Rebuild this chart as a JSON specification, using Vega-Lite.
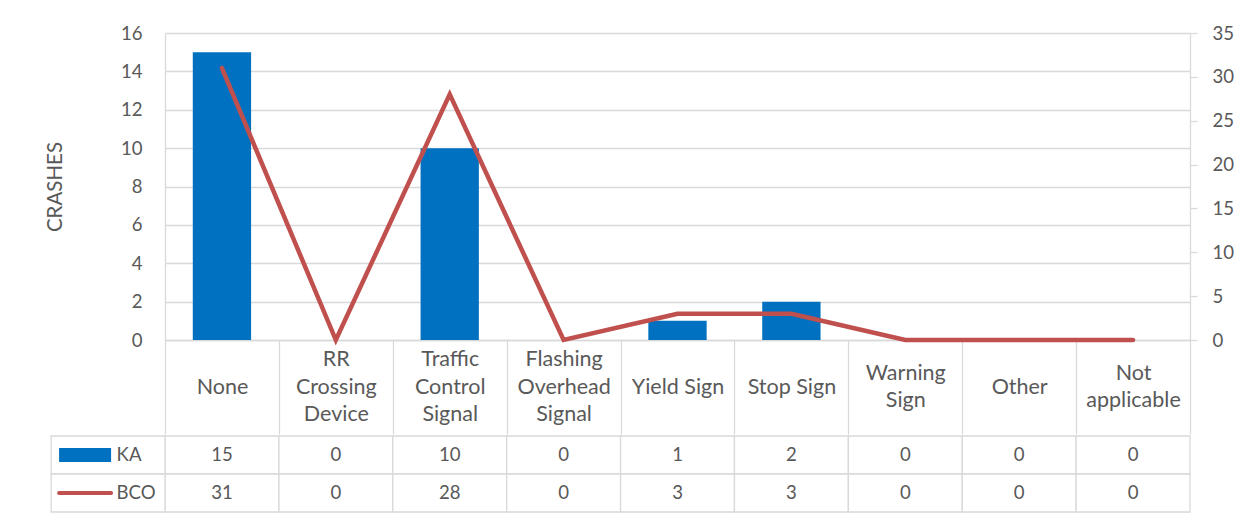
{
  "$schema": "https://vega.github.io/schema/vega-lite/v6.json",
  "padding": {"left": 45, "top": 24, "right": 5, "bottom": 5},
  "background": "white",
  "spacing": 0,
  "config": {
    "font": "Lato",
    "view": {"stroke": null},
    "text": {"font": "Lato"}
  },
  "datasets": {
    "crashes": [
      {"category": "None", "KA": 15, "BCO": 31},
      {"category": "RR Crossing Device", "KA": 0, "BCO": 0},
      {"category": "Traffic Control Signal", "KA": 10, "BCO": 28},
      {"category": "Flashing Overhead Signal", "KA": 0, "BCO": 0},
      {"category": "Yield Sign", "KA": 1, "BCO": 3},
      {"category": "Stop Sign", "KA": 2, "BCO": 3},
      {"category": "Warning Sign", "KA": 0, "BCO": 0},
      {"category": "Other", "KA": 0, "BCO": 0},
      {"category": "Not applicable", "KA": 0, "BCO": 0}
    ],
    "key": [{"series": "KA"}, {"series": "BCO"}]
  },
  "vconcat": [
    {
      "width": 1025,
      "height": 307,
      "data": {"name": "crashes"},
      "encoding": {
        "x": {
          "field": "category",
          "type": "nominal",
          "sort": null,
          "scale": {
            "type": "band",
            "paddingInner": 0,
            "paddingOuter": 0,
            "domain": ["None", "RR Crossing Device", "Traffic Control Signal", "Flashing Overhead Signal", "Yield Sign", "Stop Sign", "Warning Sign", "Other", "Not applicable"]
          },
          "axis": {
            "title": null,
            "orient": "bottom",
            "tickBand": "extent",
            "ticks": true,
            "tickSize": 94,
            "tickColor": "#d9d9d9",
            "tickWidth": 1.3,
            "domain": true,
            "domainColor": "#d9d9d9",
            "domainWidth": 1.3,
            "labelAngle": 0,
            "labelAlign": "center",
            "labelBaseline": "middle",
            "labelPadding": {
              "condition": [
                {"test": "indexof(['RR Crossing Device', 'Traffic Control Signal', 'Flashing Overhead Signal'], datum.value) >= 0", "value": -74.5},
                {"test": "datum.value == 'Warning Sign' || datum.value == 'Not applicable'", "value": -60.75}
              ],
              "value": -47
            },
            "labelFontSize": 21.5,
            "labelColor": "#595959",
            "labelLineHeight": 27.5,
            "labelLimit": 0,
            "labelOverlap": false,
            "labelExpr": "indexof(['Yield Sign', 'Stop Sign'], datum.label) >= 0 ? datum.label : split(datum.label, ' ')"
          }
        }
      },
      "layer": [
        {
          "mark": {"type": "bar", "color": "#0070C0", "width": {"band": 0.512}},
          "encoding": {
            "y": {
              "field": "KA",
              "type": "quantitative",
              "scale": {"domain": [0, 16], "nice": false},
              "axis": {
                "title": "CRASHES",
                "titleFontSize": 20.5,
                "titleFontWeight": "normal",
                "titleColor": "#595959",
                "titlePadding": 56,
                "labelFontSize": 18.6,
                "labelColor": "#595959",
                "labelPadding": 23,
                "ticks": false,
                "domain": true,
                "domainColor": "#d9d9d9",
                "domainWidth": 1.3,
                "grid": true,
                "gridColor": "#d9d9d9",
                "gridWidth": 1.3,
                "values": [0, 2, 4, 6, 8, 10, 12, 14, 16],
                "minExtent": 44,
                "maxExtent": 44
              }
            }
          }
        },
        {
          "mark": {"type": "line", "color": "#C0504D", "strokeWidth": 4.5, "strokeCap": "round"},
          "encoding": {
            "y": {
              "field": "BCO",
              "type": "quantitative",
              "scale": {"domain": [0, 35], "nice": false},
              "axis": {
                "orient": "right",
                "title": null,
                "labelFontSize": 18.6,
                "labelColor": "#595959",
                "labelPadding": 15,
                "ticks": true,
                "tickSize": 7,
                "tickColor": "#d9d9d9",
                "tickWidth": 1.3,
                "domain": true,
                "domainColor": "#d9d9d9",
                "domainWidth": 1.3,
                "grid": false,
                "values": [0, 5, 10, 15, 20, 25, 30, 35]
              }
            }
          }
        }
      ],
      "resolve": {"scale": {"y": "independent"}}
    },
    {
      "width": 1025,
      "height": 76,
      "encoding": {
        "x": {
          "field": "category",
          "type": "nominal",
          "sort": null,
          "scale": {
            "type": "band",
            "paddingInner": 0,
            "paddingOuter": 0,
            "range": [-113.85, 1025],
            "domain": ["Series", "None", "RR Crossing Device", "Traffic Control Signal", "Flashing Overhead Signal", "Yield Sign", "Stop Sign", "Warning Sign", "Other", "Not applicable"]
          },
          "axis": null
        },
        "y": {
          "field": "series",
          "type": "nominal",
          "sort": null,
          "scale": {"type": "band", "paddingInner": 0, "paddingOuter": 0, "domain": ["KA", "BCO"]},
          "axis": null
        }
      },
      "layer": [
        {
          "data": {"name": "crashes"},
          "transform": [{"fold": ["KA", "BCO"], "as": ["series", "value"]}],
          "mark": {"type": "rect", "fill": "white", "stroke": "#d9d9d9", "strokeWidth": 1.3}
        },
        {
          "data": {"name": "key"},
          "mark": {"type": "rect", "fill": "white", "stroke": "#d9d9d9", "strokeWidth": 1.3},
          "encoding": {"x": {"datum": "Series", "type": "nominal"}}
        },
        {
          "data": {"name": "crashes"},
          "transform": [{"fold": ["KA", "BCO"], "as": ["series", "value"]}],
          "mark": {"type": "text", "fontSize": 18.6, "color": "#595959", "align": "center", "baseline": "middle"},
          "encoding": {"text": {"field": "value", "type": "quantitative"}}
        },
        {
          "data": {"name": "key"},
          "transform": [{"filter": "datum.series == 'KA'"}],
          "mark": {"type": "point", "shape": "M-1,-0.27H1V0.27H-1Z", "size": 2704, "filled": true, "fill": "#0070C0", "strokeWidth": 0, "opacity": 1, "xOffset": -23},
          "encoding": {"x": {"datum": "Series", "type": "nominal"}}
        },
        {
          "data": {"name": "key"},
          "transform": [{"filter": "datum.series == 'BCO'"}],
          "mark": {"type": "point", "shape": "M-1,0L1,0", "size": 2704, "filled": false, "stroke": "#C0504D", "strokeWidth": 4, "strokeCap": "round", "opacity": 1, "xOffset": -23},
          "encoding": {"x": {"datum": "Series", "type": "nominal"}}
        },
        {
          "data": {"name": "key"},
          "mark": {"type": "text", "fontSize": 18.6, "color": "#595959", "align": "left", "baseline": "middle", "dx": 8.5},
          "encoding": {"x": {"datum": "Series", "type": "nominal"}, "text": {"field": "series", "type": "nominal"}}
        }
      ]
    }
  ]
}
